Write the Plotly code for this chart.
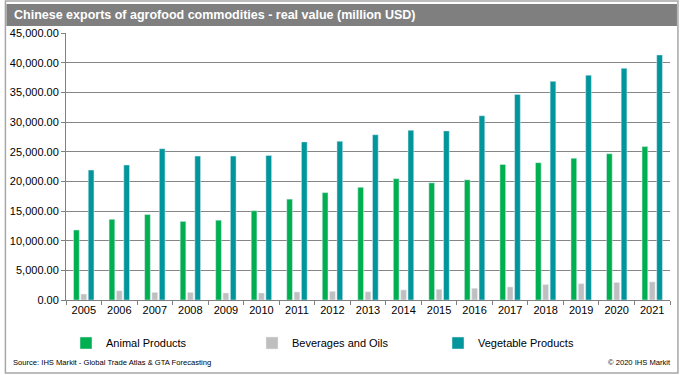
import plotly.graph_objects as go

years = ["2005", "2006", "2007", "2008", "2009", "2010", "2011", "2012", "2013",
         "2014", "2015", "2016", "2017", "2018", "2019", "2020", "2021"]
animal = [11800, 13600, 14400, 13250, 13450, 15050, 17000, 18100, 19000,
          20450, 19750, 20250, 22850, 23150, 23900, 24650, 25850]
beverages = [1000, 1550, 1280, 1280, 1180, 1180, 1350, 1450, 1380,
             1700, 1800, 1980, 2200, 2600, 2750, 2950, 3050]
vegetable = [21900, 22750, 25500, 24250, 24250, 24350, 26650, 26750, 27850,
             28600, 28500, 31050, 34650, 36850, 37900, 39050, 41300]
y_ticks = [0, 5000, 10000, 15000, 20000, 25000, 30000, 35000, 40000, 45000]

FONT = "Liberation Sans, Arial, sans-serif"
L, R, T, B = 62, 10, 33, 75
W, H = 680, 375
PW, PH = W - L - R, H - T - B


def px_x(p):
    return (p - L) / PW


def px_y(p):
    return (H - B - p) / PH


fig = go.Figure()
fig.add_trace(go.Bar(name="Animal Products", x=years, y=animal, marker_color="#00B050"))
fig.add_trace(go.Bar(name="Beverages and Oils", x=years, y=beverages, marker_color="#BFBFBF"))
fig.add_trace(go.Bar(name="Vegetable Products", x=years, y=vegetable, marker_color="#00969B"))

fig.update_layout(
    width=W, height=H,
    margin=dict(l=L, r=R, t=T, b=B),
    paper_bgcolor="white", plot_bgcolor="white",
    barmode="group", bargap=0.38, bargroupgap=0.22,
    font=dict(family=FONT, size=11, color="#000000"),
    showlegend=True,
    legend=dict(orientation="h", x=px_x(62), xanchor="left", y=px_y(343), yanchor="middle",
                entrywidth=141, entrywidthmode="pixels",
                font=dict(size=11, color="#000000"), bgcolor="rgba(0,0,0,0)",
                traceorder="normal"),
    xaxis=dict(type="category", tickson="boundaries", ticks="outside", ticklen=4,
               tickcolor="#808080", showline=True, linecolor="#808080", linewidth=1,
               showgrid=False, tickfont=dict(size=11), fixedrange=True),
    yaxis=dict(range=[0, 45000], tickvals=y_ticks, tickformat=",.2f",
               ticks="outside", ticklen=4, tickcolor="#808080",
               showline=True, linecolor="#808080", linewidth=1,
               showgrid=True, gridcolor="#858585", gridwidth=1.3,
               zeroline=False, tickfont=dict(size=11), fixedrange=True),
    shapes=[
        dict(type="rect", xref="paper", yref="paper",
             x0=px_x(1), x1=px_x(678), y0=px_y(373), y1=px_y(1),
             line=dict(color="#A6A6A6", width=1.5), fillcolor="rgba(0,0,0,0)", layer="below"),
        dict(type="rect", xref="paper", yref="paper",
             x0=px_x(2), x1=px_x(677), y0=px_y(26), y1=px_y(4),
             line=dict(width=0), fillcolor="#7F7F7F", layer="below"),
    ],
    annotations=[
        dict(text="<b>Chinese exports of agrofood commodities - real value (million USD)</b>",
             xref="paper", yref="paper", x=px_x(8), y=px_y(15), xanchor="left", yanchor="middle",
             showarrow=False, font=dict(family=FONT, size=12.5, color="white")),
        dict(text="Source: IHS Markit - Global Trade Atlas & GTA Forecasting",
             xref="paper", yref="paper", x=px_x(7), y=px_y(362), xanchor="left", yanchor="middle",
             showarrow=False, font=dict(family=FONT, size=7.6, color="#000000")),
        dict(text="© 2020 IHS Markit",
             xref="paper", yref="paper", x=px_x(673), y=px_y(362), xanchor="right", yanchor="middle",
             showarrow=False, font=dict(family=FONT, size=7.6, color="#000000")),
    ],
)

fig.write_html("out.html", config={"displayModeBar": False},
               post_script="document.body.style.margin='0';document.body.style.overflow='hidden';")
